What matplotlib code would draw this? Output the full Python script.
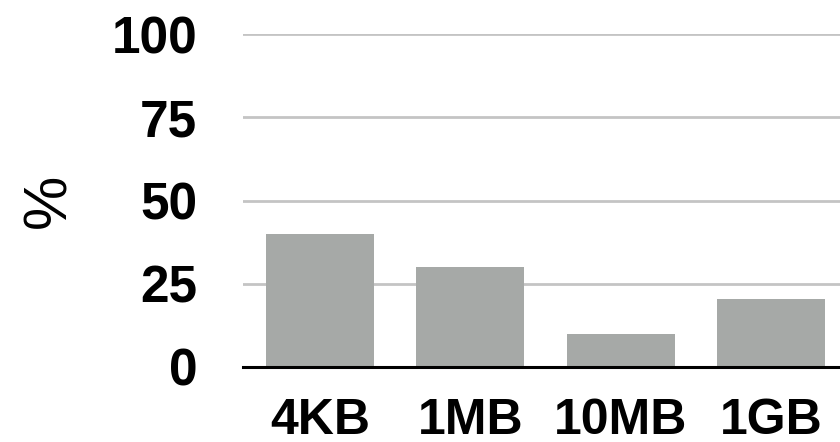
import matplotlib
matplotlib.use("Agg")
import matplotlib.pyplot as plt

categories = ["4KB", "1MB", "10MB", "1GB"]
values = [40, 30, 10, 20.3]
yticks = [0, 25, 50, 75, 100]

plt.rcParams['font.family'] = ['Liberation Sans', 'DejaVu Sans']

fig = plt.figure(figsize=(8.4, 4.42), dpi=100)
ax = fig.add_axes([243/840, 1-367/442, 1-243/840 + 5/840, (367-34)/442])

x = range(len(categories))
ax.bar(x, values, width=0.72, color="#a6a9a7", zorder=3)
ax.set_xlim(-0.51, 3.49)
ax.set_ylim(0, 100)
ax.set_yticks(yticks)
ax.set_yticklabels([str(t) for t in yticks], fontsize=37, fontweight='bold')
ax.set_xticks(list(x))
ax.set_xticklabels(categories, fontsize=36, fontweight='bold')
ax.tick_params(axis='y', length=0, pad=33)
ax.tick_params(axis='x', length=0, pad=22)
ax.yaxis.grid(True, color="#c4c4c4", linewidth=2, zorder=0)
ax.set_axisbelow(True)
for s in ["top", "right", "left"]:
    ax.spines[s].set_visible(False)
ax.spines["bottom"].set_color("black")
ax.spines["bottom"].set_linewidth(2.2)
ax.spines["bottom"].set_zorder(4)
ax.set_ylabel("%", fontsize=44, fontweight='normal', labelpad=24)

fig.savefig("out.png", dpi=100)
